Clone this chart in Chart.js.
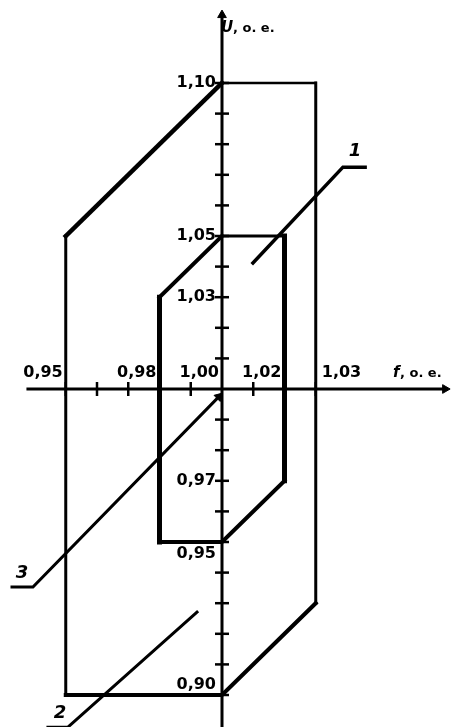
<!DOCTYPE html>
<html>
<head>
<meta charset="utf-8">
<script src="https://cdn.jsdelivr.net/npm/chart.js@4/dist/chart.umd.min.js"></script>
<style>
html,body{margin:0;padding:0;background:#fff;}
canvas{display:block;}
</style>
</head>
<body>
<canvas id="c" width="451" height="727"></canvas>
<script>
// ---- data (f and U in relative units, о. е.) ----
const outerF = [0.95, 1.00, 1.03, 1.03, 1.00, 0.95, 0.95];
const outerU = [1.05, 1.10, 1.10, 0.93, 0.90, 0.90, 1.05];
const innerF = [0.98, 1.00, 1.02, 1.02, 1.00, 0.98, 0.98];
const innerU = [1.03, 1.05, 1.05, 0.97, 0.95, 0.95, 1.03];

const fTickValues = [0.95, 0.96, 0.97, 0.98, 0.99, 1.01, 1.02, 1.03];
const uTickValues = [0.90, 0.91, 0.92, 0.93, 0.94, 0.95, 0.96, 0.97, 0.98, 0.99,
                     1.01, 1.02, 1.03, 1.04, 1.05, 1.06, 1.07, 1.08, 1.09, 1.10];

const fLabelValues = [0.95, 0.98, 1.00, 1.02, 1.03];
const fLabelTexts  = ['0,95', '0,98', '1,00', '1,02', '1,03'];
const uLabelValues = [1.10, 1.05, 1.03, 0.97, 0.95, 0.90];
const uLabelTexts  = ['1,10', '1,05', '1,03', '0,97', '0,95', '0,90'];

const fAxisTitle = 'f, о. е.';
const uAxisTitle = 'U, о. е.';

// leader lines to the zone numbers
const leader1F = [1.0099, 1.0387, 1.0458];
const leader1U = [1.0412, 1.0725, 1.0725];
const leader2F = [0.9920, 0.9507, 0.9443];
const leader2U = [0.9271, 0.8895, 0.8895];
const leader3F = [0.9328, 0.9395, 0.9990];
const leader3U = [0.9353, 0.9353, 0.9975];
const zoneNames = ['1', '2', '3'];
const zoneF = [1.0426, 0.9482, 0.9360];
const zoneU = [1.0778, 0.8941, 0.9399];

const fAxisRange = [0.9379, 1.0714];
const uAxisRange = [0.8895, 1.1222];

const pts = (xs, ys) => xs.map((x, i) => ({x: x, y: ys[i]}));
const INK = '#000';

const outerWidths = [4.5, 2.5, 3, 4, 4, 3];
const innerWidths = [4, 3, 5, 4, 4, 5];

const datasets = [
  {data: pts(outerF, outerU), segW: outerWidths},
  {data: pts(innerF, innerU), segW: innerWidths},
  {data: pts(leader1F, leader1U), w: 3.5},
  {data: pts(leader2F, leader2U), w: 3},
  {data: pts(leader3F, leader3U), w: 3, arrow: 45},
  {data: pts(fAxisRange, [1.0, 1.0]), w: 3, arrow: 90},
  {data: pts([1.0, 1.0], uAxisRange), w: 3, arrow: 0}
].map(d => {
  const o = {
    data: d.data,
    showLine: true,
    borderColor: INK,
    backgroundColor: INK,
    borderWidth: d.w || 3,
    borderJoinStyle: 'miter',
    borderCapStyle: 'square',
    pointRadius: 0,
    clip: false,
    tension: 0
  };
  if (d.segW) {
    o.segment = {borderWidth: ctx => d.segW[ctx.p0DataIndex]};
  }
  if (d.arrow !== undefined) {
    o.pointRadius = d.data.map((p, i) => i === d.data.length - 1 ? 5 : 0);
    o.pointStyle = 'triangle';
    o.rotation = d.arrow;
    o.pointBorderWidth = 1;
  }
  return o;
});

// tick marks on both axes
datasets.push({
  data: fTickValues.map(v => ({x: v, y: 1.0})),
  showLine: false, pointStyle: 'line', pointRadius: 7, rotation: 90,
  borderColor: INK, borderWidth: 2.5, clip: false
});
datasets.push({
  data: uTickValues.map(v => ({x: 1.0, y: v})),
  showLine: false, pointStyle: 'line', pointRadius: 7, rotation: 0,
  borderColor: INK, borderWidth: 2.5, clip: false
});

const textPlugin = {
  id: 'texts',
  afterDatasetsDraw(chart) {
    const ctx = chart.ctx;
    const xs = chart.scales.x, ys = chart.scales.y;
    const x0 = xs.getPixelForValue(1.0), y0 = ys.getPixelForValue(1.0);
    ctx.save();
    ctx.fillStyle = INK;
    ctx.font = 'bold 16px "DejaVu Sans"';
    ctx.textBaseline = 'middle';
    // f labels, above the axis
    fLabelValues.forEach((v, i) => {
      const px = xs.getPixelForValue(v);
      if (v > 1.025) { ctx.textAlign = 'left'; ctx.fillText(fLabelTexts[i], px + 6, y0 - 16); }
      else { ctx.textAlign = 'right'; ctx.fillText(fLabelTexts[i], px - 3, y0 - 16); }
    });
    // U labels, left of the axis
    const uDy = {'0,95': 12, '0,90': -10};
    ctx.textAlign = 'right';
    uLabelValues.forEach((v, i) => {
      const py = ys.getPixelForValue(v) + (uDy[uLabelTexts[i]] || 0);
      ctx.fillText(uLabelTexts[i], x0 - 6, py);
    });
    // axis titles
    ctx.textAlign = 'left';
    ctx.font = 'bold italic 15px "DejaVu Sans"';
    ctx.fillText(fAxisTitle.slice(0, 1), 393, y0 - 16);
    ctx.fillText(uAxisTitle.slice(0, 1), x0 - 1, ys.getPixelForValue(uAxisRange[1]) + 13);
    ctx.font = 'bold 13px "DejaVu Sans"';
    ctx.fillText(fAxisTitle.slice(1), 400, y0 - 15);
    ctx.fillText(uAxisTitle.slice(1), x0 + 11, ys.getPixelForValue(uAxisRange[1]) + 14);
    // zone numbers
    ctx.font = 'bold italic 18px "DejaVu Sans"';
    ctx.textAlign = 'center';
    zoneNames.forEach((n, i) => {
      ctx.fillText(n, xs.getPixelForValue(zoneF[i]), ys.getPixelForValue(zoneU[i]));
    });
    ctx.restore();
  }
};

new Chart(document.getElementById('c'), {
  type: 'scatter',
  data: {datasets: datasets},
  options: {
    responsive: false,
    animation: false,
    devicePixelRatio: 1,
    layout: {autoPadding: false, padding: {left: 3.25, right: 4, top: 6.5, bottom: 1.4}},
    scales: {
      x: {type: 'linear', display: false, min: 0.93, max: 1.072},
      y: {type: 'linear', display: false, min: 0.89, max: 1.125}
    },
    plugins: {legend: {display: false}, tooltip: {enabled: false}}
  },
  plugins: [textPlugin, {
    id: 'bg',
    beforeDraw(chart) {
      const c = chart.ctx;
      c.save(); c.fillStyle = '#fff'; c.fillRect(0, 0, chart.width, chart.height); c.restore();
    }
  }]
});
</script>
</body>
</html>
